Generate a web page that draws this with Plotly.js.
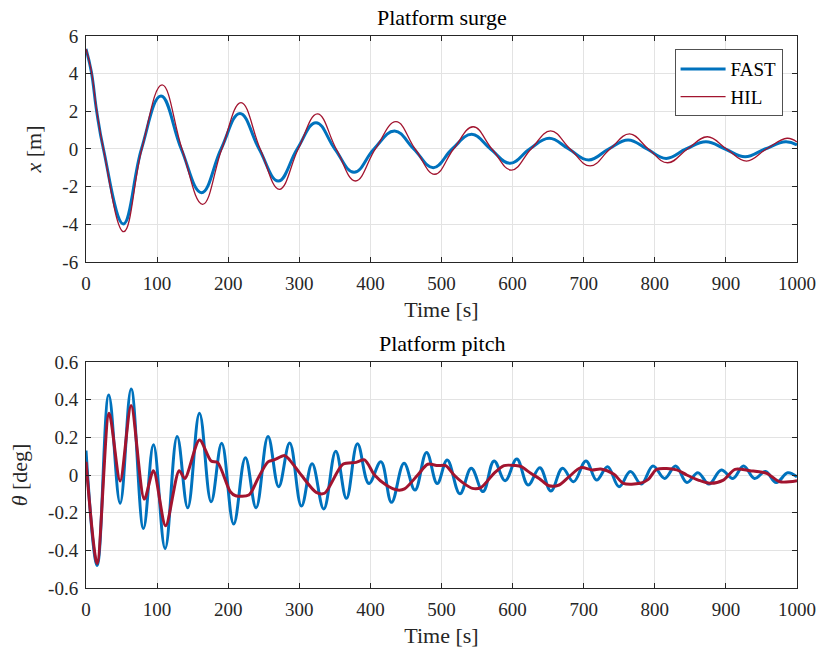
<!DOCTYPE html>
<html>
<head>
<meta charset="utf-8">
<script src="https://cdn.plot.ly/plotly-3.0.1.min.js"></script>
<style>html,body{margin:0;padding:0;background:#fff;}#chart{width:819px;height:652px;}</style>
</head>
<body>
<div id="chart"></div>
<script>
// ---- Platform surge (x [m]) ----
const surgeFastT = [0, 7.5, 15, 24.5, 52.5, 78, 105.5, 134, 162.5, 190, 216.5, 243.5, 270.5, 297, 323.5, 350, 377, 405, 434, 461, 488.5, 515, 542.5, 569, 596.5, 624, 651.5, 679, 707, 735, 762.5, 789, 816, 844, 872, 899, 927, 955, 984, 1000];
const surgeFastX = [5.31, 4.1, 2.0, 0, -3.98, 0, 2.81, 0, -2.32, 0, 1.89, 0, -1.70, 0, 1.40, 0, -1.24, 0, 0.96, 0, -0.99, 0, 0.78, 0, -0.76, 0, 0.57, 0, -0.58, 0, 0.48, 0, -0.50, 0, 0.39, 0, -0.41, 0, 0.39, 0.22];
const surgeHilT = [0, 7.5, 15, 24.5, 53, 78.5, 107, 135, 164, 191, 218, 245, 272, 298.5, 325.5, 352, 379, 407, 436, 463, 490.5, 517, 544.5, 571, 598.5, 626, 653.5, 681, 709, 737, 764.5, 791, 818, 846, 874, 901, 929, 957, 986, 1000];
const surgeHilX = [5.31, 4.15, 2.05, 0, -4.39, 0, 3.40, 0, -2.94, 0, 2.46, 0, -2.14, 0, 1.86, 0, -1.70, 0, 1.45, 0, -1.34, 0, 1.18, 0, -1.12, 0, 0.96, 0, -0.90, 0, 0.80, 0, -0.73, 0, 0.65, 0, -0.64, 0, 0.57, 0.37];

// ---- Platform pitch (theta [deg]) ----
const pitchFastT = [0, 15.7, 32, 48, 63.5, 80.8, 94.9, 111.3, 128.2, 143.1, 159.6, 176, 190.9, 207.7, 224.2, 239.2, 256, 271, 286.5, 303, 318, 334.4, 351.3, 366.3, 381.8, 397.9, 414.8, 429.7, 447.3, 462.7, 479, 494, 508, 525.9, 541.9, 558.4, 573.9, 589.5, 605.9, 621.8, 638.3, 653.8, 670.2, 685.7, 703.2, 718.1, 733.6, 749.7, 765.6, 781, 797.4, 813.8, 829.3, 845.2, 860.6, 876.1, 893.5, 909.8, 924.8, 940.3, 955.7, 970.8, 987, 1000];
const pitchFastY = [0.13, -0.48, 0.425, -0.15, 0.457, -0.284, 0.16, -0.39, 0.204, -0.174, 0.328, -0.142, 0.168, -0.26, 0.092, -0.174, 0.205, -0.062, 0.17, -0.165, 0.06, -0.18, 0.126, -0.124, 0.166, -0.045, 0.07, -0.145, 0.062, -0.08, 0.12, -0.045, 0.08, -0.1, 0.036, -0.088, 0.075, -0.03, 0.085, -0.053, 0.039, -0.085, 0.036, -0.036, 0.075, -0.027, 0.044, -0.062, 0.018, -0.048, 0.048, -0.018, 0.048, -0.04, 0.012, -0.048, 0.027, -0.018, 0.048, -0.018, 0.018, -0.04, 0.012, -0.01];
const pitchHilT = [0, 15.7, 32.5, 48, 63.5, 82, 94.9, 112, 131, 139, 159.6, 176, 185, 203, 210.5, 229, 241.9, 256, 264.4, 279.4, 286.4, 302.7, 323.8, 335.5, 361.3, 380, 391.8, 405.8, 422.1, 438.5, 447.9, 466.6, 480.7, 494.7, 505.9, 517.6, 529.3, 543.4, 555.2, 573.9, 588, 604.4, 612.3, 625.6, 637.3, 651.3, 665.4, 679.4, 695.8, 712.2, 723.9, 742.6, 755.7, 779.2, 790.9, 802.7, 830.8, 844.9, 861.2, 877.6, 896.4, 912.8, 933.9, 957.4, 976.1, 1000];
const pitchHilY = [0.07, -0.47, 0.328, -0.032, 0.369, -0.128, 0.023, -0.27, 0.023, -0.018, 0.186, 0.074, 0.067, -0.089, -0.11, -0.106, -0.018, 0.07, 0.08, 0.103, 0.08, 0, -0.092, -0.097, 0.057, 0.067, 0.08, 0, -0.053, -0.08, -0.074, 0, 0.057, 0.05, 0.05, 0, -0.039, -0.071, -0.067, 0.009, 0.05, 0.05, 0.044, 0.009, -0.018, -0.057, -0.053, -0.009, 0.039, 0.027, 0.032, 0.004, -0.044, -0.044, -0.023, 0.03, 0.027, 0, -0.027, -0.044, -0.027, 0.03, 0.023, 0.009, -0.036, -0.03];

// ---- ticks ----
const xTickVals = [0, 100, 200, 300, 400, 500, 600, 700, 800, 900, 1000];
const xTickText = ['0', '100', '200', '300', '400', '500', '600', '700', '800', '900', '1000'];
const surgeTickVals = [-6, -4, -2, 0, 2, 4, 6];
const surgeTickText = ['-6', '-4', '-2', '0', '2', '4', '6'];
const pitchTickVals = [-0.6, -0.4, -0.2, 0, 0.2, 0.4, 0.6];
const pitchTickText = ['-0.6', '-0.4', '-0.2', '0', '0.2', '0.4', '0.6'];

const BLUE = '#0072BD', RED = '#A2142F';
const FONT = 'Liberation Serif';
const AX = '#262626';

const traces = [
  {x: surgeFastT, y: surgeFastX, mode: 'lines', name: 'FAST', line: {color: BLUE, width: 3, shape: 'spline', smoothing: 1.2}, xaxis: 'x', yaxis: 'y'},
  {x: surgeHilT, y: surgeHilX, mode: 'lines', name: 'HIL', line: {color: RED, width: 1.3, shape: 'spline', smoothing: 1.2}, xaxis: 'x', yaxis: 'y'},
  {x: pitchFastT, y: pitchFastY, mode: 'lines', name: 'FAST', showlegend: false, line: {color: BLUE, width: 3, shape: 'spline', smoothing: 1.1}, xaxis: 'x2', yaxis: 'y2'},
  {x: pitchHilT, y: pitchHilY, mode: 'lines', name: 'HIL', showlegend: false, line: {color: RED, width: 3, shape: 'spline', smoothing: 0.8}, xaxis: 'x2', yaxis: 'y2'}
];

function xAxis(anchor) {
  return {
    anchor: anchor, range: [0, 1000], tickvals: xTickVals, ticktext: xTickText,
    showline: true, linecolor: AX, linewidth: 1, mirror: 'ticks', ticks: 'inside', ticklen: 5, tickcolor: AX,
    showgrid: true, gridcolor: '#e3e3e3', gridwidth: 1, zeroline: false,
    tickfont: {family: FONT, size: 19, color: '#262626'}, ticklabelstandoff: 4,
    title: {text: 'Time [s]', font: {family: FONT, size: 22, color: '#262626'}, standoff: 8}
  };
}
function yAxis(anchor, dom, rng, tv, tt, title) {
  return {
    anchor: anchor, domain: dom, range: rng, tickvals: tv, ticktext: tt,
    showline: true, linecolor: AX, linewidth: 1, mirror: 'ticks', ticks: 'inside', ticklen: 5, tickcolor: AX,
    showgrid: true, gridcolor: '#e3e3e3', gridwidth: 1, zeroline: false,
    tickfont: {family: FONT, size: 19, color: '#262626'}, ticklabelstandoff: 3,
    title: {text: title, font: {family: FONT, size: 22, color: '#262626'}, standoff: 14}
  };
}

const layout = {
  width: 819, height: 652,
  font: {family: FONT},
  margin: {l: 86, r: 22, t: 36, b: 64},
  paper_bgcolor: '#ffffff', plot_bgcolor: '#ffffff',
  showlegend: true,
  xaxis: xAxis('y'),
  yaxis: yAxis('x', [0.5906, 1], [-6, 6], surgeTickVals, surgeTickText, '<i>x</i> [m]'),
  xaxis2: xAxis('y2'),
  yaxis2: yAxis('x2', [0, 0.4094], [-0.6, 0.6], pitchTickVals, pitchTickText, '<i>θ</i> [deg]'),
  legend: {
    x: 0.98, xanchor: 'right', y: 0.976, yanchor: 'top',
    bgcolor: '#ffffff', bordercolor: AX, borderwidth: 0.8,
    font: {family: FONT, size: 19, color: '#000000'},
    itemwidth: 45, tracegroupgap: 0
  },
  annotations: [
    {text: 'Platform surge', xref: 'paper', yref: 'paper', x: 0.5, y: 1.0344, xanchor: 'center', yanchor: 'middle', showarrow: false, font: {family: FONT, size: 22, color: '#000000'}},
    {text: 'Platform pitch', xref: 'paper', yref: 'paper', x: 0.5, y: 0.4438, xanchor: 'center', yanchor: 'middle', showarrow: false, font: {family: FONT, size: 22, color: '#000000'}}
  ]
};

Plotly.newPlot('chart', traces, layout, {staticPlot: true, displayModeBar: false});
</script>
</body>
</html>
